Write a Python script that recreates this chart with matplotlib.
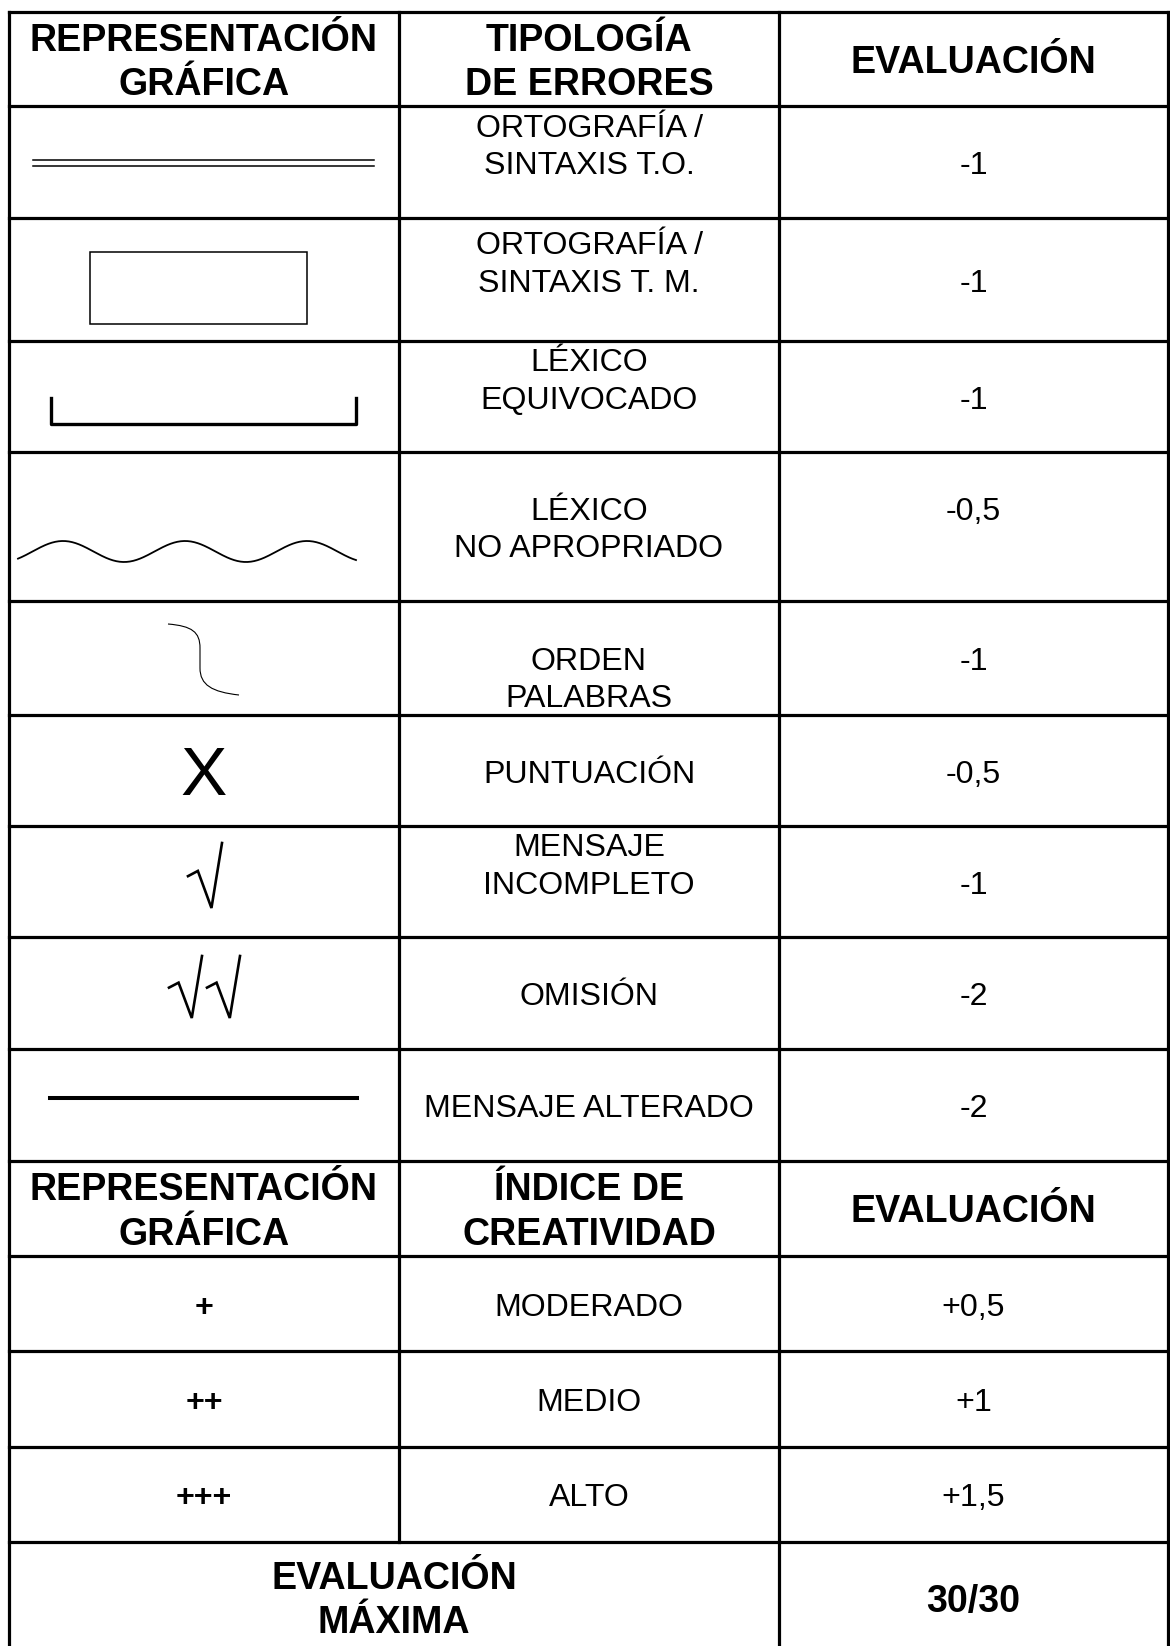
import numpy as np
import matplotlib
matplotlib.use("Agg")
import matplotlib.pyplot as plt
from matplotlib.path import Path
from matplotlib.patches import PathPatch, Rectangle

# --- table content ---
cabecera_err = ["REPRESENTACIÓN\nGRÁFICA", "TIPOLOGÍA\nDE ERRORES", "EVALUACIÓN"]
tipologia = ["ORTOGRAFÍA /\nSINTAXIS T.O.\n",
             "ORTOGRAFÍA /\nSINTAXIS T. M.\n",
             "LÉXICO\nEQUIVOCADO\n",
             "LÉXICO\nNO APROPRIADO",
             "\nORDEN\nPALABRAS",
             "PUNTUACIÓN",
             "MENSAJE\nINCOMPLETO\n",
             "OMISIÓN",
             "MENSAJE ALTERADO"]
eval_err = ["-1", "-1", "-1", "-0,5\n", "-1", "-0,5", "-1", "-2", "-2"]

cabecera_cre = ["REPRESENTACIÓN\nGRÁFICA", "ÍNDICE DE\nCREATIVIDAD", "EVALUACIÓN"]
simbolo_cre = ["+", "++", "+++"]
creatividad = ["MODERADO", "MEDIO", "ALTO"]
eval_cre = ["+0,5", "+1", "+1,5"]

total_label = "EVALUACIÓN\nMÁXIMA"
total_value = "30/30"

# grid in pixels (last edge falls just below the picture, as in the scan)
cols = [9, 399, 779, 1168]
rows = [12, 106, 218, 341, 452, 601, 715, 826, 937, 1049, 1161, 1256, 1351, 1447, 1542, 1652]

W, H = 1170, 1646
fig = plt.figure(figsize=(W / 100, H / 100), dpi=100)
ax = fig.add_axes([0, 0, 1, 1])
ax.set_xlim(0, W)
ax.set_ylim(H, 0)
ax.set_axis_off()

FONT = "Liberation Sans"
BODY = 23.1
HEAD = 27.1
GRID_LW = 2.3
DY = 4  # text sits a little low in its cell

# grid lines
for y in rows:
    ax.plot([cols[0], cols[-1]], [y, y], color="black", lw=GRID_LW, solid_capstyle="projecting")
for x in [cols[0], cols[2], cols[3]]:
    ax.plot([x, x], [rows[0], rows[-1]], color="black", lw=GRID_LW)
ax.plot([cols[1], cols[1]], [rows[0], rows[-2]], color="black", lw=GRID_LW)

cx = [(cols[i] + cols[i + 1]) / 2 for i in range(3)]


def mid(i):
    return (rows[i] + rows[i + 1]) / 2 + DY


def put(x, y, s, size=BODY, bold=False, ls=1.32):
    ax.text(x, y, s, ha="center", va="center", fontsize=size, family=FONT,
            fontweight="bold" if bold else "normal", linespacing=ls, multialignment="center")


# headers
for j, s in enumerate(cabecera_err):
    put(cx[j], mid(0), s, HEAD, True)
for j, s in enumerate(cabecera_cre):
    put(cx[j], mid(10), s, HEAD, True)

# error rows
for i in range(len(tipologia)):
    put(cx[1], mid(i + 1), tipologia[i])
    put(cx[2], mid(i + 1), eval_err[i])

# creativity rows
for i in range(len(creatividad)):
    put(cx[0], mid(11 + i), simbolo_cre[i], BODY, True)
    put(cx[1], mid(11 + i), creatividad[i])
    put(cx[2], mid(11 + i), eval_cre[i])

# total
put((cols[0] + cols[2]) / 2, 1601, total_label, HEAD, True)
put(cx[2], 1602, total_value, HEAD, True)

# --- graphic symbols ---
# double line
for y in (160, 166):
    ax.plot([33, 374], [y, y], color="black", lw=1.1)
# box
ax.add_patch(Rectangle((90, 252), 217, 72, fill=False, ec="black", lw=1.1))
# bracket
ax.plot([51, 51, 356, 356], [398, 424, 424, 398], color="black", lw=2.4)
# wavy line
wx = np.linspace(18, 356, 300)
ax.plot(wx, 551.5 - 10.5 * np.cos(2 * np.pi * (wx - 63) / 122), color="black", lw=1.3)
# word order curve
verts = [(168, 624), (192, 626), (200, 632), (200, 648), (200, 668),
         (200, 685), (212, 692), (239, 695)]
codes = [Path.MOVETO, Path.CURVE4, Path.CURVE4, Path.CURVE4, Path.LINETO,
         Path.CURVE4, Path.CURVE4, Path.CURVE4]
ax.add_patch(PathPatch(Path(verts, codes), fill=False, ec="black", lw=0.8))
# X
ax.text(cx[0], 795, "X", ha="center", va="baseline", fontsize=50, family=FONT)


# radicals
def radical(x0, y0, w, h):
    xs = [x0, x0 + 0.29 * w, x0 + 0.69 * w, x0 + w]
    ys = [y0 + 0.51 * h, y0 + 0.43 * h, y0 + h, y0]
    ax.plot(xs, ys, color="black", lw=1.9, solid_joinstyle="miter")


radical(188, 843, 34, 65)
radical(169, 956, 33, 62)
radical(207, 956, 33, 62)
# thick line
ax.plot([50, 357], [1098, 1098], color="black", lw=2.9)

fig.savefig("out.png", dpi=100)
